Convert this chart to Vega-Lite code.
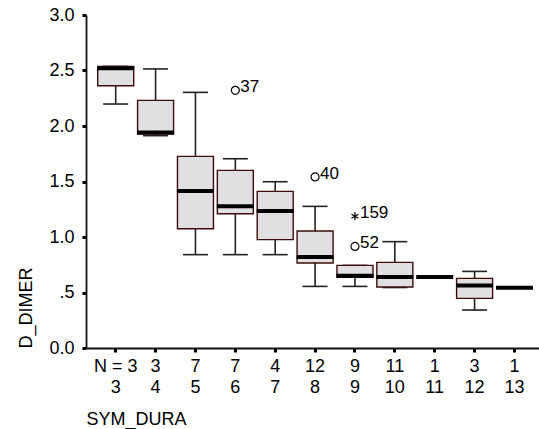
{
  "$schema": "https://vega.github.io/schema/vega-lite/v6.json",
  "width": 453,
  "height": 333,
  "autosize": {"type": "none"},
  "padding": {"left": 86, "top": 15, "right": 0, "bottom": 81},
  "background": "white",
  "config": {
    "view": {"stroke": null},
    "font": "Liberation Sans",
    "axis": {
      "labelFont": "Liberation Sans",
      "titleFont": "Liberation Sans",
      "labelFontSize": 18,
      "titleFontSize": 18,
      "titleFontWeight": "normal",
      "labelColor": "black",
      "titleColor": "black",
      "domainColor": "#111",
      "domainWidth": 1.8,
      "tickColor": "black",
      "grid": false
    }
  },
  "datasets": {
    "boxes": [
      {"xkey": "3|3", "min": 2.198, "q1": 2.363, "median": 2.52, "q3": 2.537, "max": 2.537},
      {"xkey": "3|4", "min": 1.913, "q1": 1.928, "median": 1.942, "q3": 2.231, "max": 2.514},
      {"xkey": "7|5", "min": 0.841, "q1": 1.075, "median": 1.414, "q3": 1.726, "max": 2.303},
      {"xkey": "7|6", "min": 0.841, "q1": 1.21, "median": 1.276, "q3": 1.6, "max": 1.705},
      {"xkey": "4|7", "min": 0.841, "q1": 0.976, "median": 1.234, "q3": 1.411, "max": 1.498},
      {"xkey": "12|8", "min": 0.555, "q1": 0.766, "median": 0.82, "q3": 1.054, "max": 1.276},
      {"xkey": "9|9", "min": 0.555, "q1": 0.636, "median": 0.651, "q3": 0.744, "max": 0.744},
      {"xkey": "11|10", "min": 0.545, "q1": 0.55, "median": 0.64, "q3": 0.771, "max": 0.958},
      {"xkey": "1|11", "min": 0.64, "q1": 0.64, "median": 0.64, "q3": 0.64, "max": 0.64},
      {"xkey": "3|12", "min": 0.342, "q1": 0.447, "median": 0.564, "q3": 0.627, "max": 0.69},
      {"xkey": "1|13", "min": 0.543, "q1": 0.543, "median": 0.543, "q3": 0.543, "max": 0.543}
    ],
    "outliers": [
      {"xkey": "7|6", "value": 2.321, "case": "37", "type": "outlier"},
      {"xkey": "12|8", "value": 1.541, "case": "40", "type": "outlier"},
      {"xkey": "9|9", "value": 0.915, "case": "52", "type": "outlier"},
      {"xkey": "9|9", "value": 1.186, "case": "159", "type": "extreme"}
    ]
  },
  "encoding": {
    "x": {
      "field": "xkey",
      "type": "nominal",
      "sort": null,
      "scale": {
        "domain": ["3|3", "3|4", "7|5", "7|6", "4|7", "12|8", "9|9", "11|10", "1|11", "3|12", "1|13"],
        "paddingInner": 0,
        "paddingOuter": 0.18,
        "align": 0.68
      },
      "axis": {
        "title": "SYM_DURA",
        "titleAnchor": "start",
        "titleAlign": "left",
        "titlePadding": 14,
        "labelAngle": 0,
        "labelOverlap": false,
        "labelBound": false,
        "labelFlush": false,
        "labelPadding": 5,
        "labelLineHeight": 21,
        "tickSize": 4,
        "tickWidth": 3,
        "labelExpr": "[(datum.label == '3|3' ? 'N = ' : '') + substring(datum.label, 0, indexof(datum.label, '|')) + (datum.label == '3|3' ? '       ' : ''), substring(datum.label, indexof(datum.label, '|') + 1)]"
      }
    }
  },
  "layer": [
    {
      "data": {"name": "boxes"},
      "mark": {"type": "rule", "color": "#222", "strokeWidth": 1.6, "opacity": 1},
      "encoding": {
        "y": {
          "field": "min",
          "type": "quantitative",
          "scale": {"domain": [0, 3], "nice": false, "zero": false},
          "axis": {
            "title": "D_DIMER",
            "titleAnchor": "start",
            "titlePadding": 13,
            "values": [0, 0.5, 1, 1.5, 2, 2.5, 3],
            "labelExpr": "datum.value == 0.5 ? '.5' : format(datum.value, '.1f')",
            "labelPadding": 8,
            "tickSize": 4,
            "tickWidth": 3
          }
        },
        "y2": {"field": "max"}
      }
    },
    {
      "data": {"name": "boxes"},
      "mark": {"type": "tick", "color": "#222", "size": 25, "thickness": 1.6, "opacity": 1},
      "encoding": {"y": {"field": "min", "type": "quantitative"}}
    },
    {
      "data": {"name": "boxes"},
      "mark": {"type": "tick", "color": "#222", "size": 25, "thickness": 1.6, "opacity": 1},
      "encoding": {"y": {"field": "max", "type": "quantitative"}}
    },
    {
      "data": {"name": "boxes"},
      "mark": {"type": "bar", "width": 36, "fill": "#e0e0e2", "stroke": "#3e0c0c", "strokeWidth": 1.4, "opacity": 1},
      "encoding": {
        "y": {"field": "q1", "type": "quantitative"},
        "y2": {"field": "q3"}
      }
    },
    {
      "data": {"name": "boxes"},
      "mark": {"type": "tick", "color": "black", "size": 37, "thickness": 4, "opacity": 1},
      "encoding": {"y": {"field": "median", "type": "quantitative"}}
    },
    {
      "data": {"name": "outliers"},
      "mark": {"type": "point", "filled": false, "color": "black", "strokeWidth": 1.2, "size": 64, "opacity": 1},
      "encoding": {
        "y": {"field": "value", "type": "quantitative"},
        "shape": {
          "field": "type",
          "type": "nominal",
          "scale": {
            "domain": ["outlier", "extreme"],
            "range": ["circle", "M0,-1L0,1M-0.866,-0.5L0.866,0.5M-0.866,0.5L0.866,-0.5"]
          },
          "legend": null
        }
      }
    },
    {
      "data": {"name": "outliers"},
      "mark": {"type": "text", "align": "left", "baseline": "middle", "dx": 5, "dy": -3, "fontSize": 17, "color": "black"},
      "encoding": {
        "y": {"field": "value", "type": "quantitative"},
        "text": {"field": "case"}
      }
    }
  ]
}
